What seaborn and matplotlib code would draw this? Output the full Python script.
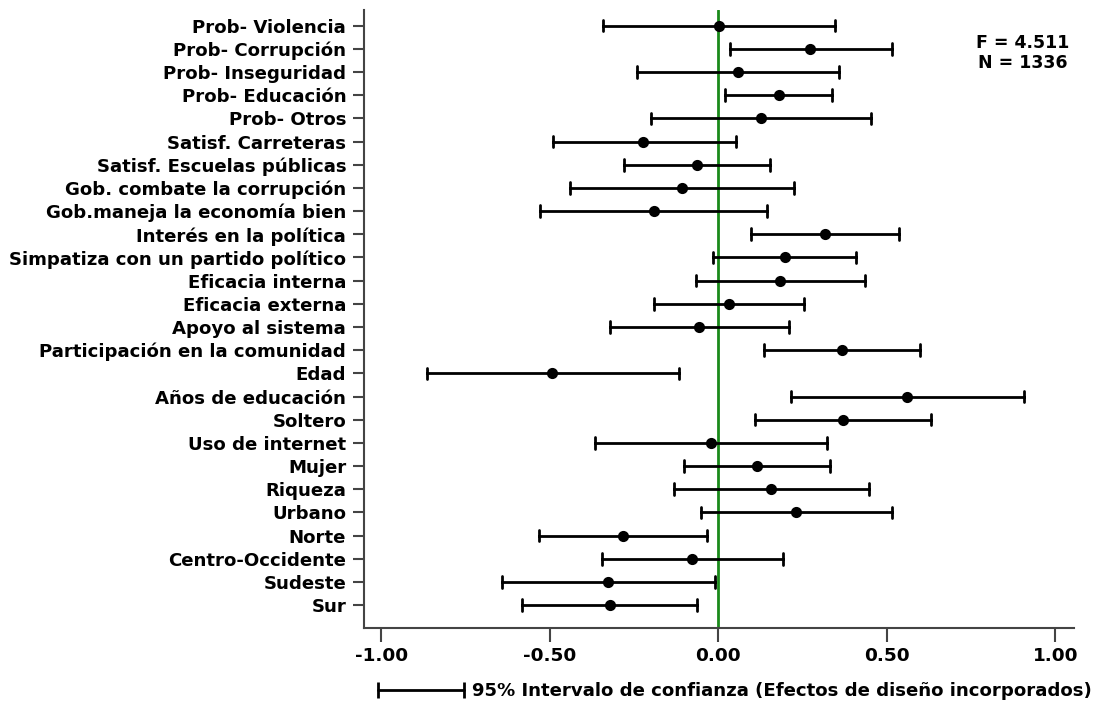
import matplotlib
matplotlib.use("Agg")
import matplotlib.pyplot as plt
from matplotlib.lines import Line2D
import numpy as np
import pandas as pd
import seaborn as sns

# Variables (top to bottom) with point estimate and 95% CI bounds
labels = ["Prob- Violencia", "Prob- Corrupción", "Prob- Inseguridad", "Prob- Educación",
          "Prob- Otros", "Satisf. Carreteras", "Satisf. Escuelas públicas",
          "Gob. combate la corrupción", "Gob.maneja la economía bien", "Interés en la política",
          "Simpatiza con un partido político", "Eficacia interna", "Eficacia externa",
          "Apoyo al sistema", "Participación en la comunidad", "Edad", "Años de educación",
          "Soltero", "Uso de internet", "Mujer", "Riqueza", "Urbano", "Norte",
          "Centro-Occidente", "Sudeste", "Sur"]
coef = [0.003, 0.272, 0.057, 0.179, 0.127, -0.222, -0.063, -0.109, -0.192, 0.317,
        0.198, 0.182, 0.032, -0.056, 0.366, -0.492, 0.561, 0.369, -0.023, 0.114,
        0.157, 0.231, -0.282, -0.077, -0.328, -0.322]
ci_low = [-0.343, 0.034, -0.241, 0.020, -0.199, -0.491, -0.281, -0.441, -0.529, 0.098,
          -0.016, -0.065, -0.192, -0.322, 0.135, -0.864, 0.216, 0.110, -0.365, -0.103,
          -0.130, -0.052, -0.532, -0.344, -0.641, -0.581]
ci_high = [0.347, 0.515, 0.357, 0.338, 0.454, 0.052, 0.153, 0.226, 0.145, 0.537,
           0.409, 0.434, 0.254, 0.209, 0.599, -0.118, 0.907, 0.630, 0.322, 0.330,
           0.446, 0.514, -0.034, 0.191, -0.011, -0.063]
x_ticks = [-1.0, -0.5, 0.0, 0.5, 1.0]
stats_text = "F = 4.511\nN = 1336"
legend_text = "95% Intervalo de confianza (Efectos de diseño incorporados)"

# long format: lo / est / hi per variable -> median = estimate, full range = CI
df = pd.DataFrame({
    "var": np.repeat(labels, 3),
    "value": np.column_stack([ci_low, coef, ci_high]).ravel(),
})

sns.set_style("white")
plt.rcParams["font.family"] = ["DejaVu Sans"]
plt.rcParams["font.weight"] = "bold"
plt.rcParams["text.color"] = "black"
plt.rcParams["xtick.color"] = "black"
plt.rcParams["ytick.color"] = "black"

fig, ax = plt.subplots(figsize=(10.94, 7.07), dpi=100)
fig.subplots_adjust(left=0.333, right=0.982, top=0.986, bottom=0.112)

sns.pointplot(data=df, x="value", y="var", order=labels, orient="h",
              estimator=np.median, errorbar=("pi", 100), linestyle="none",
              color="black", markers="o", markersize=6, capsize=0.5,
              err_kws={"linewidth": 2}, ax=ax)

ax.axvline(0, color="#1a8a1a", linewidth=2, zorder=0)

ax.set_xlim(-1.05, 1.056)
ax.set_ylim(len(labels) - 0.02, -0.68)
ax.set_xticks(x_ticks)
ax.set_xticklabels([f"{t:.2f}" for t in x_ticks])
ax.set_xlabel("")
ax.set_ylabel("")

sns.despine(ax=ax)
for side in ["left", "bottom"]:
    ax.spines[side].set_color("#444444")
    ax.spines[side].set_linewidth(1.5)
ax.tick_params(axis="y", length=8, width=1.5, color="#444444", pad=5, labelsize=13.1, left=True)
ax.tick_params(axis="x", length=10, width=1.5, color="#444444", pad=4, labelsize=13.3, bottom=True)
for lab in ax.get_yticklabels() + ax.get_xticklabels():
    lab.set_fontweight("bold")

ax.text(0.927, 0.93, stats_text, transform=ax.transAxes, ha="center", va="center",
        ma="center", fontsize=12.5, fontweight="bold", linespacing=1.1)

handle = Line2D([0], [0], color="black", linewidth=2, marker="|", markersize=12,
                markeredgewidth=2)
fig.legend([handle], [legend_text], loc="center right",
           bbox_to_anchor=(0.998, 1 - 691 / 707), bbox_transform=fig.transFigure,
           frameon=False, numpoints=2, handlelength=5.3, handletextpad=0.15,
           borderpad=0, borderaxespad=0, prop={"size": 13.1, "weight": "bold"})

fig.savefig("out.png", dpi=100)
